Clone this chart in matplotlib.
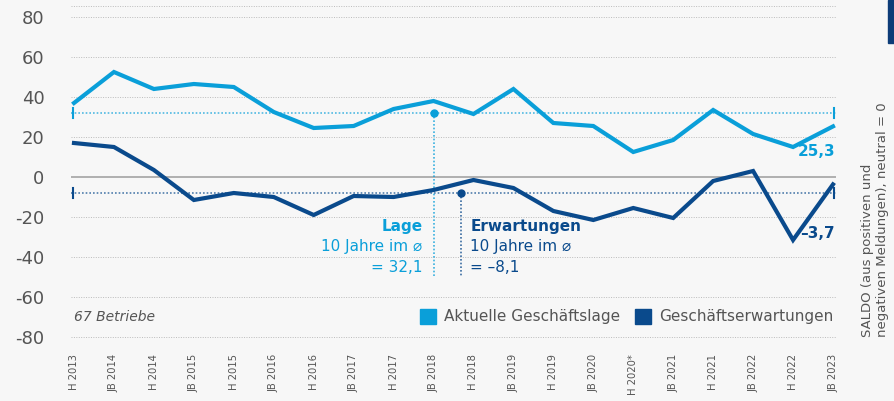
import matplotlib.pyplot as plt
from matplotlib.patches import Rectangle

periods = ["H 2013", "JB 2014", "H 2014", "JB 2015", "H 2015", "JB 2016", "H 2016",
           "JB 2017", "H 2017", "JB 2018", "H 2018", "JB 2019", "H 2019", "JB 2020",
           "H 2020*", "JB 2021", "H 2021", "JB 2022", "H 2022", "JB 2023"]
lage = [37, 52.5, 44, 46.5, 45, 32.5, 24.5, 25.5, 34, 38, 31.5, 44, 27, 25.5,
        12.5, 18.5, 33.5, 21.5, 15, 25.3]
erwartungen = [17, 15, 3.5, -11.5, -8, -10, -19, -9.5, -10, -6.5, -1.5, -5.5,
               -17, -21.5, -15.5, -20.5, -2, 3, -31.5, -3.7]
avg_lage = 32.1
avg_erw = -8.1
yticks = [-80, -60, -40, -20, 0, 20, 40, 60, 80]

LIGHT = '#0a9fd9'
DARK = '#0a4a8c'
GRAY = '#555555'
BG = '#f7f7f7'

fig = plt.figure(figsize=(8.95, 4.01), dpi=100, facecolor=BG)
ax = fig.add_axes([71 / 895, 64 / 401, 765 / 895, 331 / 401], facecolor=BG)

x = list(range(len(periods)))
ax.set_xlim(-0.075, 19.075)
ax.set_ylim(-80, 85.5)

# grid
for v in yticks + [85.5]:
    if v == 0:
        ax.axhline(0, color='#aaaaaa', lw=1.3, zorder=1)
    else:
        ax.axhline(v, color='#bbbbbb', lw=0.7, ls=(0, (1, 1.5)), zorder=1, clip_on=False)

# average lines
ax.axhline(avg_lage, color=LIGHT, lw=1.2, ls=(0, (1, 1.2)), alpha=0.7, zorder=2)
ax.axhline(avg_erw, color=DARK, lw=1.2, ls=(0, (1, 1.2)), alpha=0.7, zorder=2)
for xx in [-0.03, 19.03]:
    ax.plot([xx, xx], [avg_lage - 2.5, avg_lage + 2.5], color=LIGHT, lw=1.5, zorder=3, clip_on=False)
    ax.plot([xx, xx], [avg_erw - 2.5, avg_erw + 2.5], color=DARK, lw=1.5, zorder=3, clip_on=False)

# vertical markers to annotations
ax.plot([9, 9], [avg_lage, -50], color=LIGHT, lw=1.2, ls=(0, (1, 1.2)), alpha=0.8, zorder=2)
ax.plot([9], [avg_lage], 'o', color=LIGHT, ms=5, zorder=4)
ax.plot([9.7, 9.7], [avg_erw, -50], color=DARK, lw=1.2, ls=(0, (1, 1.2)), alpha=0.8, zorder=2)
ax.plot([9.7], [avg_erw], 'o', color=DARK, ms=5, zorder=4)

ax.plot(x, lage, color=LIGHT, lw=3, zorder=5, solid_joinstyle='miter')
ax.plot(x, erwartungen, color=DARK, lw=3, zorder=5, solid_joinstyle='miter')

# annotations
ax.text(8.72, -24.5, "Lage", color=LIGHT, fontsize=11, fontweight='bold', ha='right', va='center')
ax.text(8.72, -34.5, "10 Jahre im \u2300", color=LIGHT, fontsize=11, ha='right', va='center')
ax.text(8.72, -45, "= 32,1", color=LIGHT, fontsize=11, ha='right', va='center')
ax.text(9.92, -24.5, "Erwartungen", color=DARK, fontsize=11, fontweight='bold', ha='left', va='center')
ax.text(9.92, -34.5, "10 Jahre im \u2300", color=DARK, fontsize=11, ha='left', va='center')
ax.text(9.92, -45, "= \u20138,1", color=DARK, fontsize=11, ha='left', va='center')

ax.text(19.05, 12.5, "25,3", color=LIGHT, fontsize=11, fontweight='bold', ha='right', va='center')
ax.text(19.05, -28, "\u20133,7", color=DARK, fontsize=11, fontweight='bold', ha='right', va='center')

ax.text(0.0, -70, "67 Betriebe", color=GRAY, fontsize=10, style='italic', ha='left', va='center')

# legend
ax.add_patch(Rectangle((8.65, -73.5), 0.4, 7.5, color=LIGHT, zorder=5, clip_on=False))
ax.text(9.25, -69.7, "Aktuelle Geschäftslage", color=GRAY, fontsize=11, ha='left', va='center')
ax.add_patch(Rectangle((14.05, -73.5), 0.4, 7.5, color=DARK, zorder=5, clip_on=False))
ax.text(14.65, -69.7, "Geschäftserwartungen", color=GRAY, fontsize=11, ha='left', va='center')

# axes styling
for s in ax.spines.values():
    s.set_visible(False)
ax.set_yticks(yticks)
ax.set_yticklabels([str(v) for v in yticks], fontsize=13, color=GRAY)
ax.tick_params(axis='y', length=0, pad=19)
ax.set_xticks(x)
ax.set_xticklabels(periods, rotation=90, fontsize=8, color=GRAY, va='top',
                   fontstretch='condensed')
ax.tick_params(axis='x', length=0, pad=12)

fig.text(868 / 895, 64 / 401, "SALDO (aus positiven und", rotation=90, fontsize=9.5,
         color=GRAY, ha='center', va='bottom')
fig.text(883 / 895, 64 / 401, "negativen Meldungen), neutral = 0", rotation=90, fontsize=9.5,
         color=GRAY, ha='center', va='bottom')
fig.add_artist(Rectangle((888 / 895, 358 / 401), 7 / 895, 43 / 401, color='#0d3c78',
                         transform=fig.transFigure))

fig.savefig("out.png", dpi=100, facecolor=BG)
